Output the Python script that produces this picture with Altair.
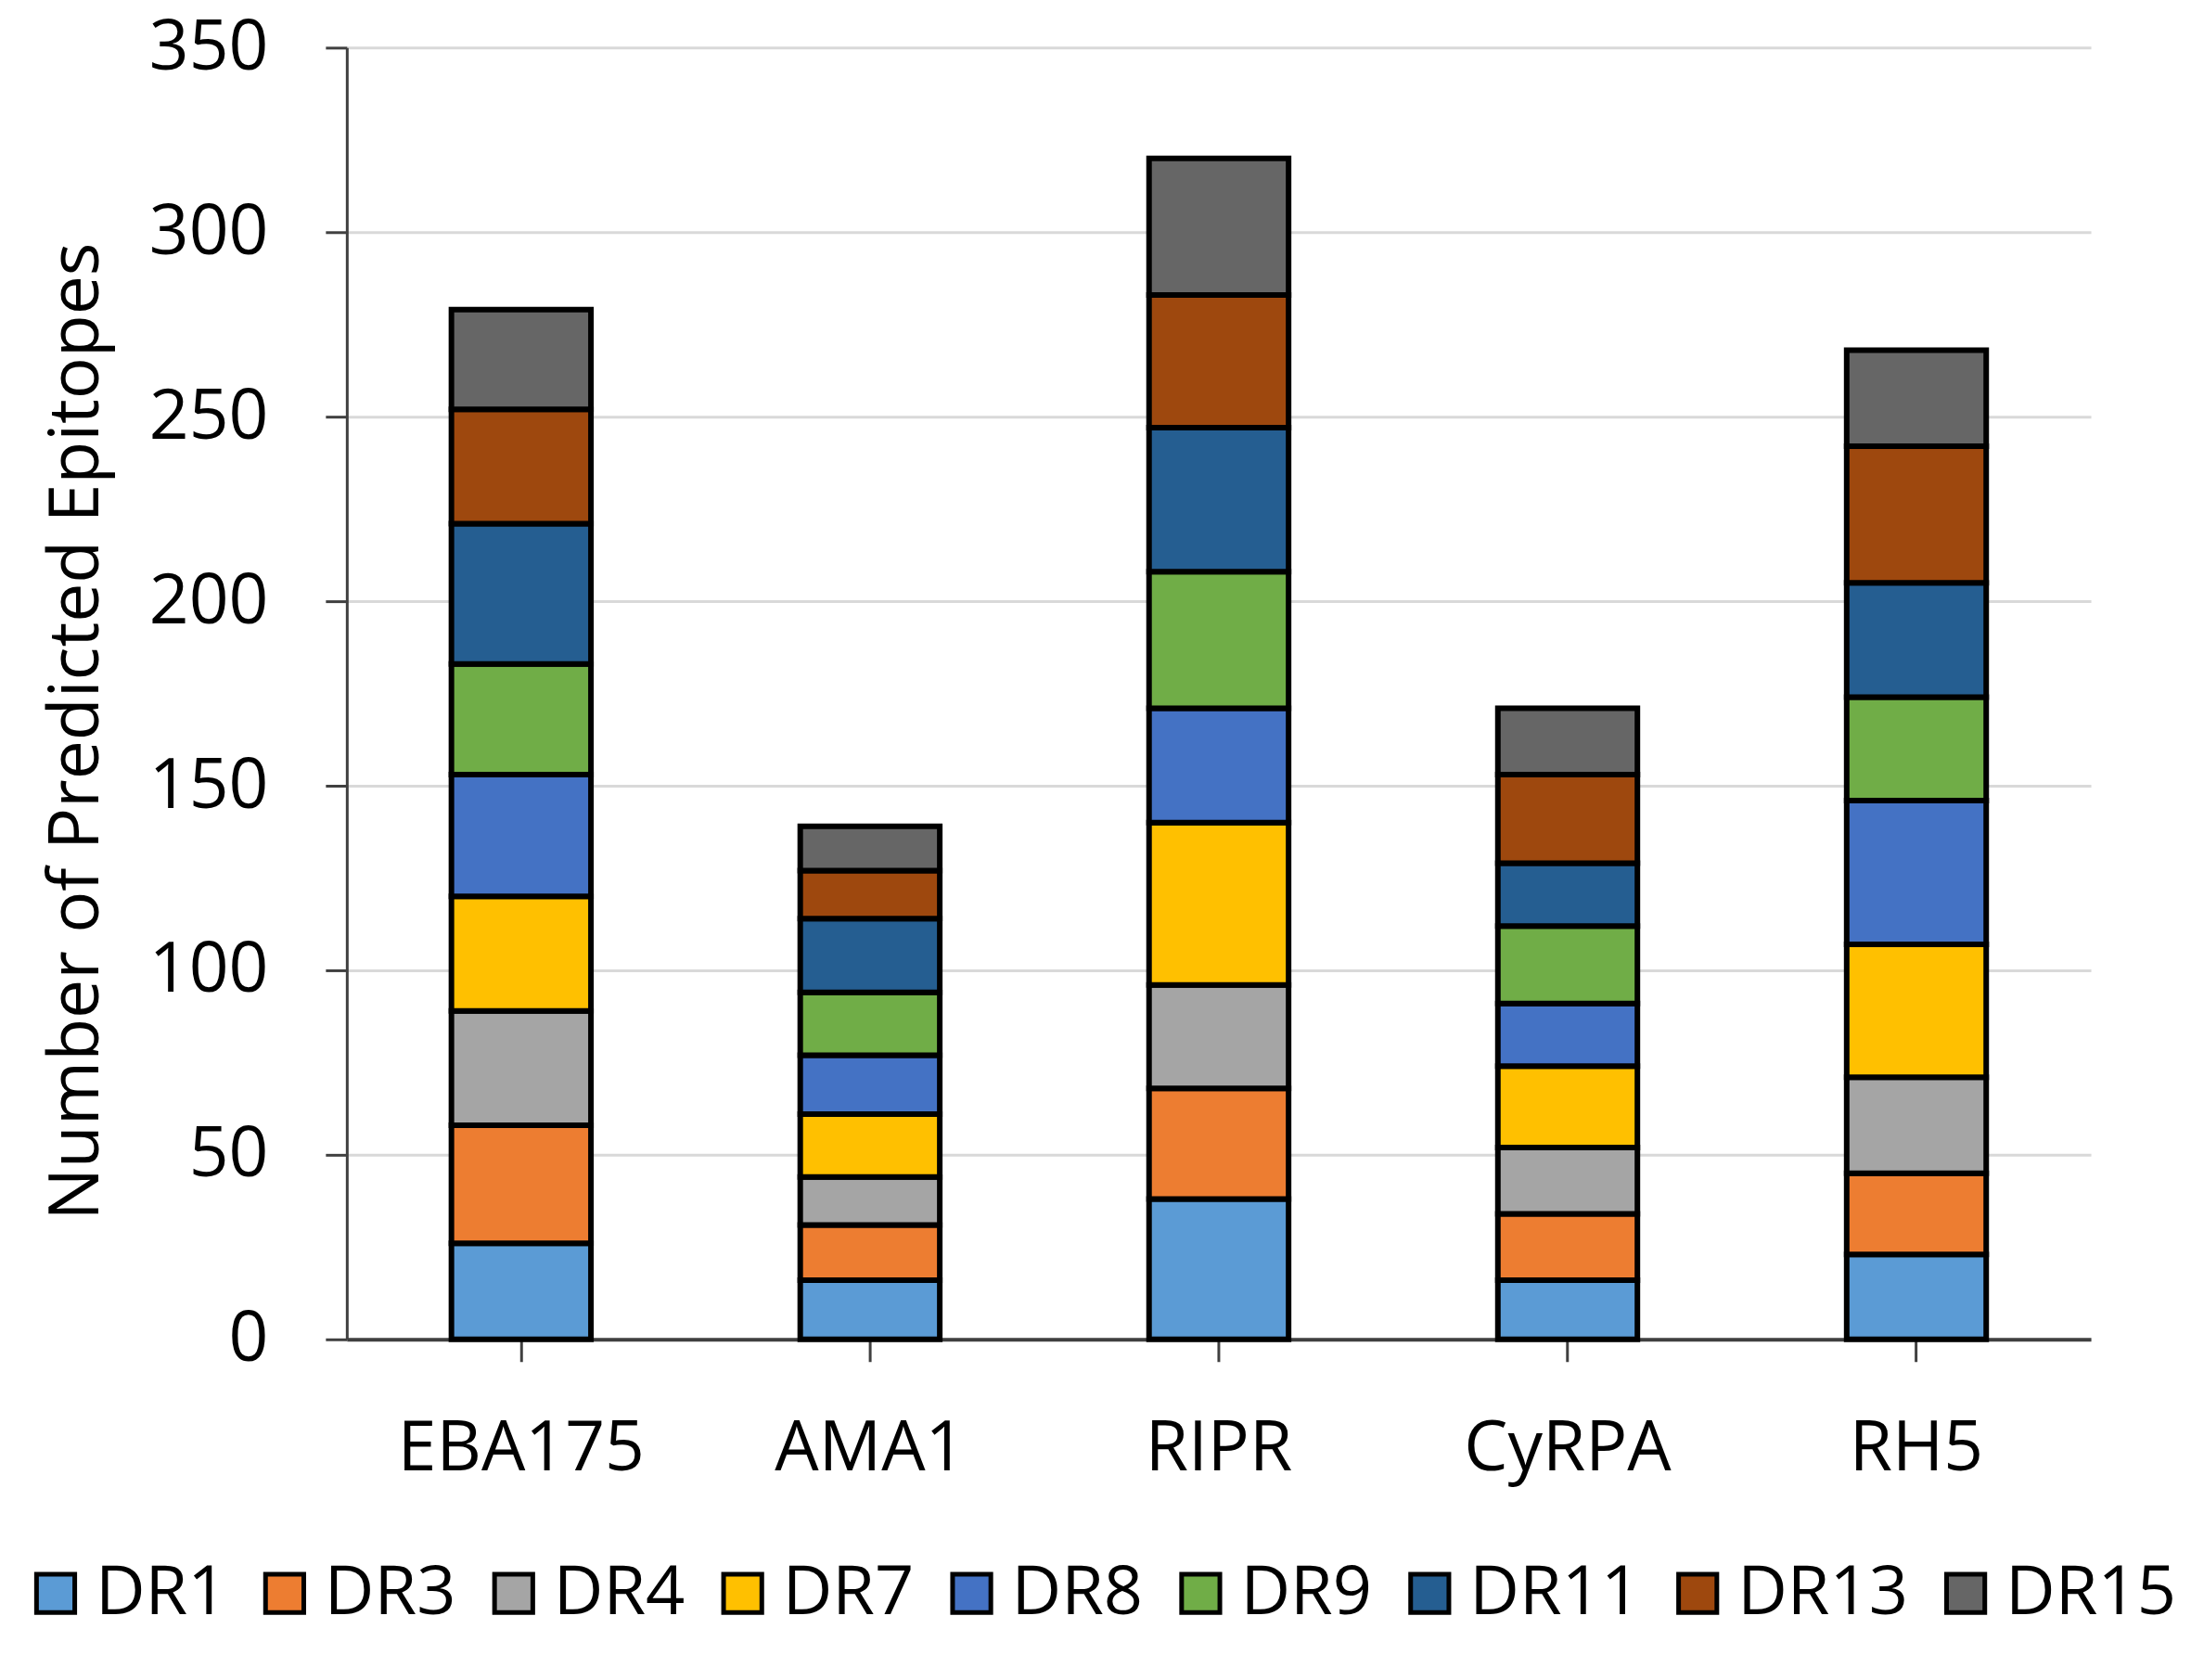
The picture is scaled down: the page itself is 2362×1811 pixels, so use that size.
import altair as alt
import pandas as pd

antigens = ["EBA175", "AMA1", "RIPR", "CyRPA", "RH5"]
alleles = ["DR1", "DR3", "DR4", "DR7", "DR8", "DR9", "DR11", "DR13", "DR15"]
colors = ["#5B9BD5", "#ED7D31", "#A5A5A5", "#FFC000", "#4472C4",
          "#70AD47", "#255E91", "#9E480E", "#666666"]

eba175 = [26, 32, 31, 31, 33, 30, 38, 31, 27]
ama1 = [16, 15, 13, 17, 16, 17, 20, 13, 12]
ripr = [38, 30, 28, 44, 31, 37, 39, 36, 37]
cyrpa = [16, 18, 18, 22, 17, 21, 17, 24, 18]
rh5 = [23, 22, 26, 36, 39, 28, 31, 37, 26]

series = {"EBA175": eba175, "AMA1": ama1, "RIPR": ripr, "CyRPA": cyrpa, "RH5": rh5}

rows = []
for ag in antigens:
    for i, al in enumerate(alleles):
        rows.append({"antigen": ag, "allele": al, "idx": i, "count": series[ag][i]})
df = pd.DataFrame(rows)

FONT = "Open Sans"

chart = alt.Chart(df).mark_bar(stroke="black", strokeWidth=6).encode(
    x=alt.X("antigen:N", sort=antigens,
            scale=alt.Scale(paddingInner=0.6, paddingOuter=0.3),
            axis=alt.Axis(title=None, labelAngle=0, labelFontSize=75, labelFont=FONT,
                          labelColor="black", labelPadding=58, labelLimit=800, tickSize=24,
                          tickColor="#404040", tickWidth=3, domainColor="#404040",
                          domainWidth=4, grid=False)),
    y=alt.Y("count:Q", stack="zero",
            scale=alt.Scale(domain=[0, 350], nice=False),
            axis=alt.Axis(title="Number of Predicted Epitopes", values=list(range(0, 351, 50)),
                          labelFontSize=75, labelFont=FONT, labelColor="black",
                          labelPadding=62, tickSize=23, tickColor="#404040", tickWidth=3,
                          domainColor="#404040", domainWidth=3,
                          gridColor="#D9D9D9", gridWidth=3,
                          titleFontSize=75, titleFont=FONT, titleFontWeight="normal",
                          titleColor="black", titleAngle=270, titleX=-291, titleY=737,
                          titleAlign="center", titleBaseline="middle")),
    color=alt.Color("allele:N", scale=alt.Scale(domain=alleles, range=colors),
                    legend=alt.Legend(title=None, orient="none", direction="horizontal",
                                      legendX=-351, legendY=1630, padding=0,
                                      symbolType="square", symbolSize=1700,
                                      symbolStrokeColor="black", symbolStrokeWidth=5,
                                      symbolOpacity=1,
                                      labelFontSize=74, labelFont=FONT, labelColor="black",
                                      labelOffset=6, columnPadding=25, labelLimit=400)),
    order=alt.Order("idx:Q", sort="ascending"),
).properties(
    width=1881, height=1393,
    autosize=alt.AutoSizeParams(type="none"),
    padding={"left": 366, "top": 43, "right": 100, "bottom": 330},
).configure_view(stroke=None).configure_legend(
    symbolStrokeWidth=5, symbolStrokeColor="black"
)

chart.save("out.html", embed_options={"renderer": "svg", "actions": False})
